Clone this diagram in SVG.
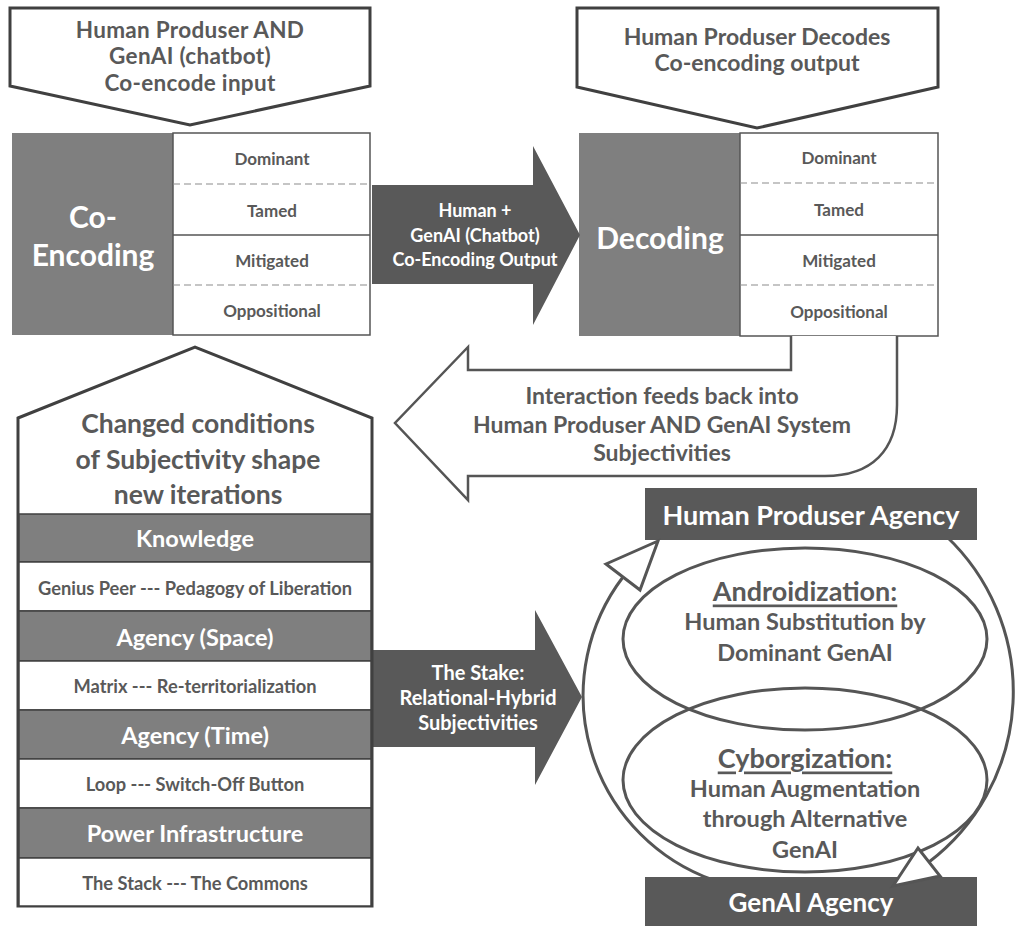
<svg xmlns="http://www.w3.org/2000/svg" width="1015" height="926" viewBox="0 0 1015 926">
<style>
text{font-family:Lato,"Open Sans","Liberation Sans",sans-serif;font-weight:700;text-anchor:middle;dominant-baseline:central}
.t{fill:#595959}
.w{fill:#ffffff}
.call{fill:#ffffff;stroke:#404040;stroke-width:3;stroke-linejoin:miter}
.lab{fill:#7f7f7f}
.cell{fill:#ffffff;stroke:#555555;stroke-width:1.5}
.dash{stroke:#8c8c8c;stroke-width:1.2;stroke-dasharray:7 4}
.solid{stroke:#555555;stroke-width:1.5}
.darr{fill:#595959}
.row{stroke:#404040;stroke-width:1.5}
.line{fill:none;stroke:#555555;stroke-width:3}
.box{fill:#595959}
.head{fill:#ffffff;stroke:#555555;stroke-width:3;stroke-linejoin:miter}
</style>
<rect width="1015" height="926" fill="#ffffff"/>

<g id="callout-encode">
<polygon class="call" points="10,8 370,8 370,86 190,125 10,86"/>
<text class="t" x="190" y="29" font-size="22.5" letter-spacing="0.3">Human Produser AND</text>
<text class="t" x="190" y="55.5" font-size="22.5" letter-spacing="0.3">GenAI (chatbot)</text>
<text class="t" x="190" y="82" font-size="22.5" letter-spacing="0.3">Co-encode input</text>
</g>

<g id="callout-decode">
<polygon class="call" points="577,8 938,8 938,87 757,128 577,87"/>
<text class="t" x="757" y="36" font-size="23">Human Produser Decodes</text>
<text class="t" x="757" y="62" font-size="23">Co-encoding output</text>
</g>

<g id="co-encoding">
<rect class="lab" x="12" y="133" width="161" height="202"/>
<text class="w" x="93" y="216" font-size="30">Co-</text>
<text class="w" x="93" y="254" font-size="30">Encoding</text>
<rect class="cell" x="173" y="133" width="197" height="202"/>
<line class="dash" x1="173" y1="184" x2="370" y2="184"/>
<line class="solid" x1="173" y1="235" x2="370" y2="235"/>
<line class="dash" x1="173" y1="285" x2="370" y2="285"/>
<text class="t" x="272" y="158" font-size="17">Dominant</text>
<text class="t" x="272" y="210" font-size="17">Tamed</text>
<text class="t" x="272" y="260" font-size="17">Mitigated</text>
<text class="t" x="272" y="310" font-size="17">Oppositional</text>
</g>

<g id="decoding">
<rect class="lab" x="579" y="133" width="161" height="203"/>
<text class="w" x="660" y="237" font-size="30">Decoding</text>
<rect class="cell" x="740" y="133" width="198" height="203"/>
<line class="dash" x1="740" y1="183" x2="938" y2="183"/>
<line class="solid" x1="740" y1="235" x2="938" y2="235"/>
<line class="dash" x1="740" y1="285" x2="938" y2="285"/>
<text class="t" x="839" y="157" font-size="17">Dominant</text>
<text class="t" x="839" y="209" font-size="17">Tamed</text>
<text class="t" x="839" y="260" font-size="17">Mitigated</text>
<text class="t" x="839" y="311" font-size="17">Oppositional</text>
</g>

<g id="connectors">
<g id="output-arrow">
<polygon class="darr" points="372,185 533,185 533,146 580,235 533,325 533,284 372,284"/>
<text class="w" x="475" y="210" font-size="18">Human +</text>
<text class="w" x="475" y="235" font-size="18">GenAI (Chatbot)</text>
<text class="w" x="475" y="259" font-size="18">Co-Encoding Output</text>
</g>
<g id="feedback-arrow">
<path d="M 791 336 L 791 370 L 468 370 L 468 347 L 395 423 L 468 500 L 468 476 L 825 476 C 872 476 897 450 897 405 L 897 336" fill="#ffffff" stroke="#555555" stroke-width="2.5" stroke-linejoin="miter"/>
<text class="t" x="662" y="395" font-size="23">Interaction feeds back into</text>
<text class="t" x="662" y="424" font-size="23">Human Produser AND GenAI System</text>
<text class="t" x="662" y="452" font-size="23">Subjectivities</text>
</g>
<g id="stake-arrow">
<polygon class="darr" points="372,650 535,650 535,610 582,697 535,785 535,747 372,747"/>
<text class="w" x="478" y="672" font-size="20">The Stake:</text>
<text class="w" x="478" y="697" font-size="20">Relational-Hybrid</text>
<text class="w" x="478" y="722" font-size="20">Subjectivities</text>
</g>
<g id="cycle-arcs">
<path class="line" d="M 713 880 A 196 196 0 0 1 623 577"/>
<path class="line" d="M 946 536 A 214 214 0 0 1 929 862"/>
</g>
</g>

<g id="conditions">
<path d="M 18 418 L 195 347 L 372 418 L 372 906 L 18 906 Z" fill="#ffffff" stroke="#404040" stroke-width="3"/>
<text class="t" x="198" y="423" font-size="26.5">Changed conditions</text>
<text class="t" x="198" y="459" font-size="26.5">of Subjectivity shape</text>
<text class="t" x="198" y="494" font-size="26.5">new iterations</text>
<rect class="row lab" x="19" y="514" width="352" height="48"/>
<rect class="row" fill="#ffffff" x="19" y="562" width="352" height="49"/>
<rect class="row lab" x="19" y="611" width="352" height="50"/>
<rect class="row" fill="#ffffff" x="19" y="661" width="352" height="49"/>
<rect class="row lab" x="19" y="710" width="352" height="49"/>
<rect class="row" fill="#ffffff" x="19" y="759" width="352" height="49"/>
<rect class="row lab" x="19" y="808" width="352" height="50"/>
<rect class="row" fill="#ffffff" x="19" y="858" width="352" height="48"/>
<text class="w" x="195" y="538" font-size="23.5">Knowledge</text>
<text class="t" x="195" y="588" font-size="18.3">Genius Peer --- Pedagogy of Liberation</text>
<text class="w" x="195" y="637" font-size="23.5">Agency (Space)</text>
<text class="t" x="195" y="686" font-size="18.3">Matrix --- Re-territorialization</text>
<text class="w" x="195" y="735" font-size="23.5">Agency (Time)</text>
<text class="t" x="195" y="784" font-size="18.3">Loop --- Switch-Off Button</text>
<text class="w" x="195" y="833" font-size="23.5">Power Infrastructure</text>
<text class="t" x="195" y="883" font-size="18.3">The Stack --- The Commons</text>
</g>

<g id="androidization">
<ellipse class="line" cx="805" cy="639" rx="182" ry="91"/>
<text class="t" x="805" y="590" font-size="27" text-decoration="underline">Androidization:</text>
<text class="t" x="805" y="621" font-size="23.5">Human Substitution by</text>
<text class="t" x="805" y="652" font-size="23.5">Dominant GenAI</text>
</g>

<g id="cyborgization">
<ellipse class="line" cx="805" cy="780" rx="182" ry="92"/>
<text class="t" x="805" y="757" font-size="27" text-decoration="underline">Cyborgization:</text>
<text class="t" x="805" y="788" font-size="23.5">Human Augmentation</text>
<text class="t" x="805" y="818" font-size="23.5">through Alternative</text>
<text class="t" x="805" y="849" font-size="23.5">GenAI</text>
</g>

<g id="human-agency">
<rect class="box" x="645" y="488" width="332" height="52"/>
<text class="w" x="811" y="514" font-size="27">Human Produser Agency</text>
</g>

<g id="genai-agency">
<rect class="box" x="645" y="877" width="332" height="52"/>
<text class="w" x="811" y="902" font-size="26">GenAI Agency</text>
</g>

<g id="arrowheads">
<polygon class="head" points="658,541 606,564 640,590"/>
<polygon class="head" points="893,886 918,848 940,876"/>
</g>
</svg>
